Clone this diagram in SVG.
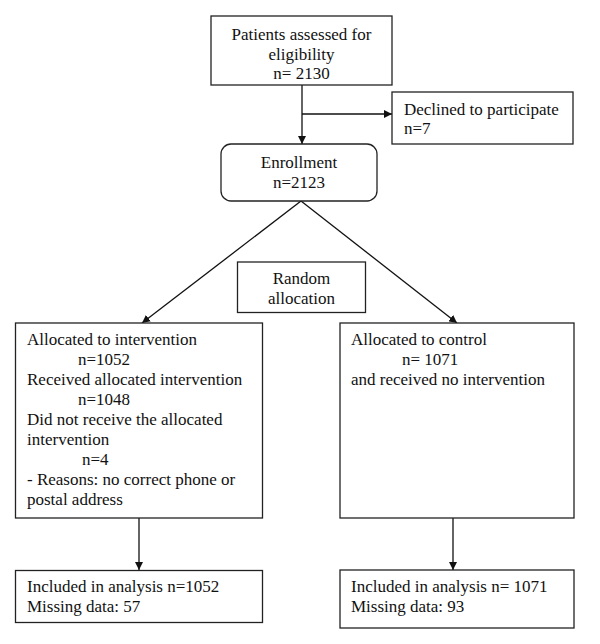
<svg xmlns="http://www.w3.org/2000/svg" width="600" height="644" viewBox="0 0 600 644">
<defs>
<style>
.box{fill:#fff;stroke:#222;stroke-width:1.3}
.t{font-family:"Liberation Serif","Times New Roman",serif;font-size:17px;fill:#111}
.c{text-anchor:middle}
.ln{stroke:#111;stroke-width:1.3;fill:none}
</style>
<marker id="ah" viewBox="0 0 10 10" refX="10" refY="5" markerWidth="8" markerHeight="8" markerUnits="userSpaceOnUse" orient="auto">
<path d="M0,0 L10,5 L0,10 z" fill="#111"/>
</marker>
</defs>
<rect width="600" height="644" fill="#fff"/>
<g id="connectors">
<line class="ln" x1="302" y1="85" x2="302" y2="144" marker-end="url(#ah)"/>
<line class="ln" x1="302" y1="114" x2="392" y2="114" marker-end="url(#ah)"/>
<line class="ln" x1="301" y1="201" x2="142" y2="323" marker-end="url(#ah)"/>
<line class="ln" x1="301" y1="201" x2="457" y2="323" marker-end="url(#ah)"/>
<line class="ln" x1="139" y1="518" x2="139" y2="570" marker-end="url(#ah)"/>
<line class="ln" x1="453" y1="518" x2="453" y2="570" marker-end="url(#ah)"/>
</g>
<g id="assessed">
<rect class="box" x="211" y="16" width="181" height="69"/>
<text class="t c" x="301.5" y="40">Patients assessed for</text>
<text class="t c" x="301.5" y="60">eligibility</text>
<text class="t c" x="301.5" y="79">n= 2130</text>
</g>
<g id="declined">
<rect class="box" x="392" y="92" width="181" height="52"/>
<text class="t" x="404" y="115">Declined to participate</text>
<text class="t" x="404" y="134">n=7</text>
</g>
<g id="enrollment">
<rect class="box" x="221" y="144" width="156" height="57" rx="10" ry="10"/>
<text class="t c" x="299" y="168">Enrollment</text>
<text class="t c" x="299" y="188">n=2123</text>
</g>
<g id="random">
<rect class="box" x="237.5" y="262" width="128" height="50.5"/>
<text class="t c" x="301.5" y="284">Random</text>
<text class="t c" x="301.5" y="304">allocation</text>
</g>
<g id="intervention">
<rect class="box" x="15.5" y="323" width="247" height="195"/>
<text class="t" x="27" y="345">Allocated to intervention</text>
<text class="t" x="78" y="365">n=1052</text>
<text class="t" x="27" y="385">Received allocated intervention</text>
<text class="t" x="78" y="405">n=1048</text>
<text class="t" x="27" y="425">Did not receive the allocated</text>
<text class="t" x="27" y="445">intervention</text>
<text class="t" x="82" y="465">n=4</text>
<text class="t" x="27" y="485">- Reasons: no correct phone or</text>
<text class="t" x="27" y="505">postal address</text>
</g>
<g id="control">
<rect class="box" x="340" y="323" width="234" height="195"/>
<text class="t" x="351" y="345">Allocated to control</text>
<text class="t" x="402" y="365">n= 1071</text>
<text class="t" x="351" y="385">and received no intervention</text>
</g>
<g id="analysis-intervention">
<rect class="box" x="15.5" y="570.5" width="247" height="52"/>
<text class="t" x="27" y="592">Included in analysis n=1052</text>
<text class="t" x="27" y="612">Missing data: 57</text>
</g>
<g id="analysis-control">
<rect class="box" x="340" y="570" width="234" height="58"/>
<text class="t" x="351" y="592">Included in analysis n= 1071</text>
<text class="t" x="351" y="612">Missing data: 93</text>
</g>
</svg>
